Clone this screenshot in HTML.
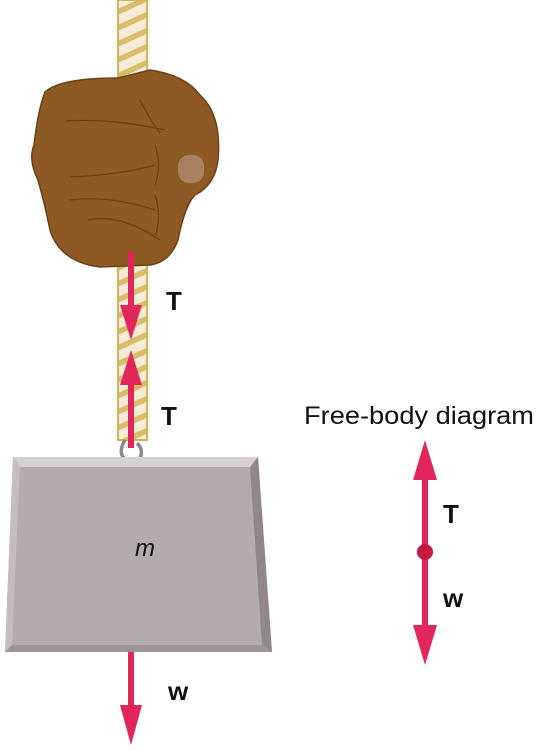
<!DOCTYPE html>
<html><head><meta charset="utf-8"><style>
body{margin:0;background:#fff;width:539px;height:750px;overflow:hidden}
svg{display:block}
text{font-family:"Liberation Sans",Arial,sans-serif}
</style></head><body>
<svg width="539" height="750" viewBox="0 0 539 750">
<defs>
<pattern id="rope" patternUnits="userSpaceOnUse" width="30" height="16" patternTransform="skewY(-25)">
<rect width="30" height="16" fill="#f4ecd4"/>
<rect y="0" width="30" height="6" fill="#d9bc6a"/>
</pattern>
</defs>
<g>
<rect x="118" y="0" width="29" height="440" fill="url(#rope)" stroke="#cfb45a" stroke-width="2"/>
</g>
<g>
<path d="M45 92 Q60 78 118 78 L150 70 Q185 75 200 95 Q222 115 218 160 Q215 185 195 195 Q185 205 178 240 Q170 262 150 265 L100 267 Q60 262 50 230 Q45 205 38 180 Q28 160 34 145 Q38 110 45 92 Z" fill="#8e5a23" stroke="#6b4016" stroke-width="1.5"/>
<path d="M66 121 Q110 118 165 130 M70 177 Q120 175 155 165 M70 200 Q110 195 155 210 M88 220 Q120 213 160 240 M140 100 Q150 120 160 133 M155 145 Q162 165 155 185 M155 195 Q162 215 155 238" fill="none" stroke="#6b4016" stroke-width="1.3"/>
<rect x="178" y="155" width="26" height="28" rx="11" fill="#a98060"/>
</g>
<g>
<path d="M125 440 Q118 452 124 458 Q132 464 140 458 Q144 450 137 443" fill="none" stroke="#8a8a8a" stroke-width="3.5"/>
</g>
<g>
<polygon points="13,457 258,457 272,652 5,652" fill="#b4abae"/>
<polygon points="13,457 258,457 250,467 20,467" fill="#d6d0d2"/>
<polygon points="258,457 272,652 262,645 250,467" fill="#8f8789"/>
<polygon points="5,652 272,652 262,645 12,645" fill="#9c9496"/>
<polygon points="13,457 20,467 12,645 5,652" fill="#c4bcbf"/>
<text x="145" y="556" font-size="24" font-style="italic" text-anchor="middle" fill="#111">m</text>
</g>
<g fill="#e0265a" stroke="none">
<g>
<rect x="128" y="252" width="6" height="60"/><polygon points="120,305 142,305 131,340"/></g>
<g>
<rect x="128" y="380" width="6" height="68"/><polygon points="120,385 142,385 131,350"/></g>
<g>
<rect x="128" y="652" width="6" height="60"/><polygon points="120,705 142,705 131,745"/></g>
<g>
<rect x="422" y="475" width="6" height="78"/><polygon points="413,480 437,480 425,440"/></g>
<g>
<rect x="422" y="552" width="6" height="78"/><polygon points="413,625 437,625 425,665"/></g>
</g>
<circle cx="425" cy="552" r="8" fill="#c4193d"/>
<g font-weight="bold" font-size="26" fill="#111">
<text x="166" y="310">T</text>
<text x="161" y="425">T</text>
<text x="168" y="700">w</text>
<text x="443" y="523">T</text>
<text x="443" y="607">w</text>
</g>
<text x="304" y="424" font-size="25" textLength="230" lengthAdjust="spacingAndGlyphs" fill="#111">Free-body diagram</text>
</svg>
</body></html>
